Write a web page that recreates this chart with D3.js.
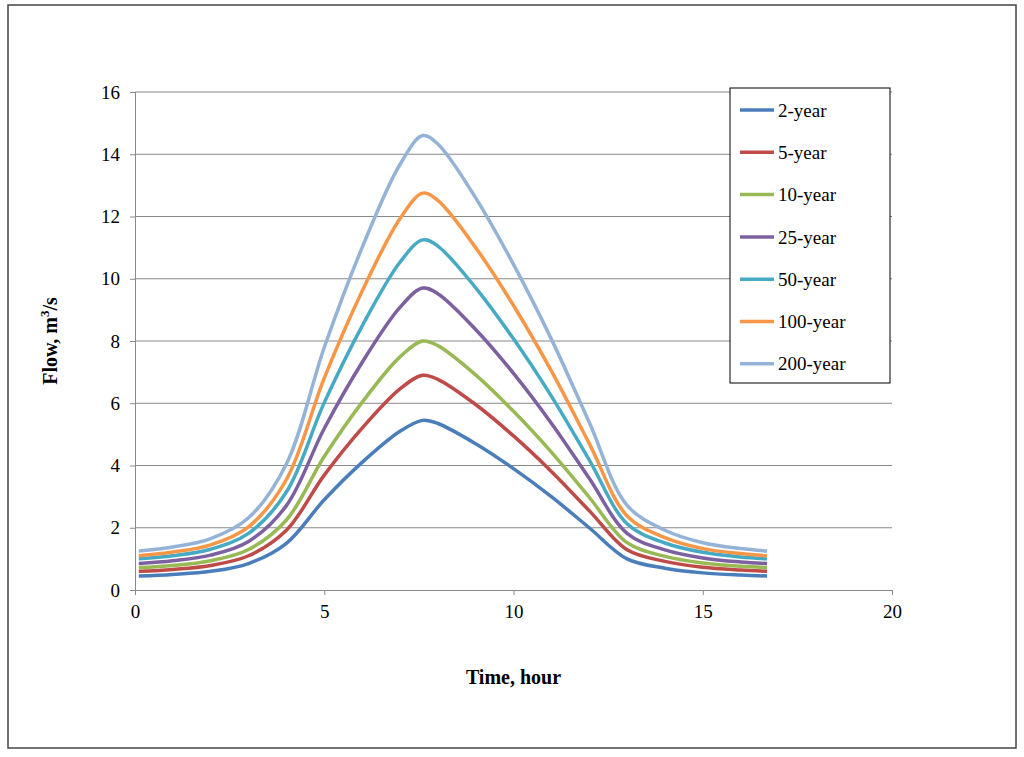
<!DOCTYPE html>
<html><head><meta charset="utf-8">
<script src="https://cdn.jsdelivr.net/npm/d3@7"></script>
<style>body{margin:0;background:#fff}svg{font-family:"Liberation Serif","Times New Roman",serif}</style>
</head><body><svg id="c" width="1024" height="757"></svg>
<script>
'use strict';
var times = [0.1,1,2,3,4,5,6,7,7.6,8,9,10,11,12,13,14,15,16,16.7];
var names = ['2-year','5-year','10-year','25-year','50-year','100-year','200-year'];
var colors = ['#4A7EBB','#BE4B48','#98B954','#7D60A0','#46AAC5','#F79646','#95B3D7'];
var flows = [
  [.45,.5,.6,.85,1.5,2.9,4.1,5.1,5.45,5.35,4.7,3.9,3.0,2.0,1.0,.7,.55,.48,.45],
  [.6,.66,.79,1.1,1.92,3.69,5.2,6.46,6.9,6.77,5.96,4.95,3.81,2.55,1.29,.92,.73,.64,.6],
  [.72,.79,.94,1.3,2.25,4.29,6.03,7.49,8.0,7.85,6.91,5.74,4.43,2.98,1.52,1.08,.87,.76,.72],
  [.85,.94,1.12,1.56,2.71,5.19,7.31,9.08,9.7,9.52,8.37,6.96,5.36,3.59,1.82,1.29,1.03,.9,.85],
  [1.0,1.1,1.31,1.82,3.15,6.02,8.48,10.53,11.25,11.05,9.71,8.07,6.23,4.18,2.13,1.51,1.21,1.06,1.0],
  [1.1,1.22,1.45,2.03,3.55,6.81,9.6,11.93,12.75,12.52,11.0,9.14,7.04,4.71,2.38,1.68,1.33,1.17,1.1],
  [1.25,1.38,1.65,2.32,4.05,7.79,11.0,13.67,14.6,14.33,12.6,10.46,8.06,5.39,2.72,1.92,1.52,1.33,1.25]
];
var xTicks = [0,5,10,15,20], yTicks = [0,2,4,6,8,10,12,14,16];

var svg = d3.select('#c');
svg.append('rect').attr('x',8).attr('y',5).attr('width',1008).attr('height',743)
   .attr('fill','none').attr('stroke','#444').attr('stroke-width',1.5);

var x = d3.scaleLinear().domain([0,20]).range([135,892]);
var y = d3.scaleLinear().domain([0,16]).range([590,92]);

svg.append('g').selectAll('line').data(yTicks.slice(1)).enter().append('line')
   .attr('x1',x(0)).attr('x2',x(20)).attr('y1',y).attr('y2',y)
   .attr('stroke','#888').attr('stroke-width',1);

var ya = svg.append('g').attr('transform','translate(135,0)')
   .call(d3.axisLeft(y).tickValues(yTicks).tickSize(5).tickPadding(10));
var xa = svg.append('g').attr('transform','translate(0,590)')
   .call(d3.axisBottom(x).tickValues(xTicks).tickSize(5).tickPadding(10));
[ya,xa].forEach(function (a) {
    a.attr('font-family','"Liberation Serif","Times New Roman",serif').attr('font-size',19);
    a.selectAll('path,line').attr('stroke','#888');
    a.selectAll('text').attr('fill','#000');
});

var line = d3.line().curve(d3.curveCatmullRom.alpha(0.5))
   .x(function (d, i) { return x(times[i]); }).y(function (d) { return y(d); });
svg.append('g').selectAll('path').data(flows).enter().append('path')
   .attr('d',line).attr('fill','none').attr('stroke-width',3.5)
   .attr('stroke',function (d, i) { return colors[i]; });

svg.append('text').attr('x',x(10)).attr('y',684).attr('text-anchor','middle')
   .attr('font-weight','bold').attr('font-size',20).text('Time, hour');
var yl = svg.append('text').attr('transform','translate(57,341) rotate(-90)')
   .attr('text-anchor','middle').attr('font-weight','bold').attr('font-size',20);
yl.append('tspan').text('Flow, m');
yl.append('tspan').attr('font-size',13).attr('dy',-8).text('3');
yl.append('tspan').attr('dy',8).text('/s');

var lg = svg.append('g');
lg.append('rect').attr('x',730).attr('y',88).attr('width',160).attr('height',295)
  .attr('fill','#fff').attr('stroke','#000').attr('stroke-width',1);
var it = lg.selectAll('g').data(names).enter().append('g')
  .attr('transform',function (d, i) { return 'translate(740,' + (110 + i*42.3) + ')'; });
it.append('line').attr('x1',0).attr('x2',34).attr('stroke-width',3.5)
  .attr('stroke',function (d, i) { return colors[i]; });
it.append('text').attr('x',38).attr('dy','0.35em').attr('font-size',19).text(function (d) { return d; });
</script></body></html>
